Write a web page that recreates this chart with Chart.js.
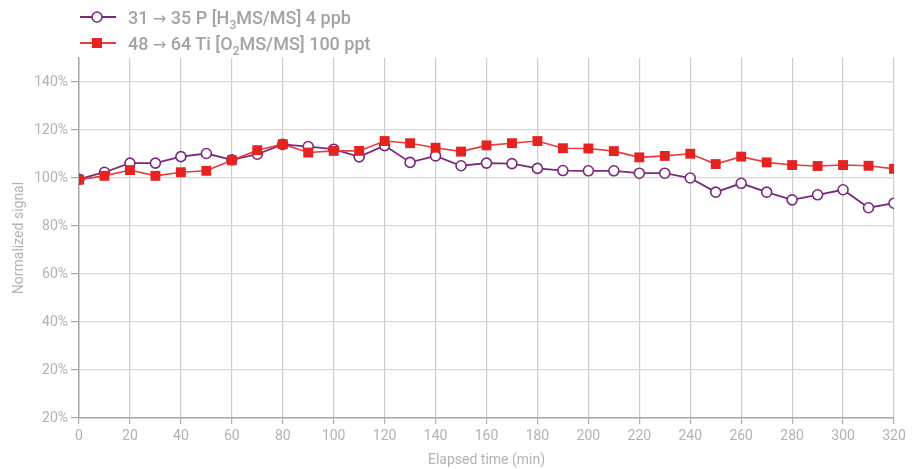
<!DOCTYPE html>
<html lang="en">
<head>
    <meta charset="UTF-8">
    <title>Normalized signal</title>
    <script src="https://cdn.jsdelivr.net/npm/chart.js"></script>
    <style>
        html, body {
            margin: 0;
            padding: 0;
            background: #ffffff;
            font-family: Roboto, "Noto Sans", Arial, sans-serif;
        }
        #wrap {
            position: relative;
            width: 924px;
            height: 469px;
        }
        #legend {
            position: absolute;
            left: 80px;
            top: 4px;
            color: #a3a3a3;
            font-size: 18px;
            font-weight: 500;
        }
        .item {
            display: flex;
            align-items: center;
            height: 26px;
        }
        .item svg { margin-right: 12px; }
        .arrow { font-family: "DejaVu Sans", sans-serif; font-weight: normal; font-size: 16px; }
        sub { font-size: 12px; vertical-align: -5px; line-height: 0; }
    </style>
</head>
<body>
<div id="wrap">
    <canvas id="signalChart" width="924" height="469"></canvas>
    <div id="legend"></div>
</div>

<script>
    const times = [0, 10, 20, 30, 40, 50, 60, 70, 80, 90, 100, 110, 120, 130, 140, 150, 160,
                   170, 180, 190, 200, 210, 220, 230, 240, 250, 260, 270, 280, 290, 300, 310, 320];
    const phosphorus = [99.5, 102.4, 106.2, 106.2, 108.9, 110.2, 107.6, 109.9, 114.0, 113.1, 112.0, 108.8, 113.5,
                        106.5, 109.2, 105.1, 106.2, 106.0, 104.0, 103.1, 103.0, 103.0, 102.0, 102.0, 100.0,
                        94.1, 97.8, 94.1, 90.9, 93.0, 95.1, 87.6, 89.5];
    const titanium = [99.3, 100.9, 103.3, 100.9, 102.4, 103.0, 107.4, 111.6, 114.1, 110.6, 111.3, 111.3, 115.4,
                      114.5, 112.6, 111.0, 113.6, 114.5, 115.4, 112.4, 112.3, 111.2, 108.6, 109.2, 110.1,
                      105.8, 108.9, 106.5, 105.4, 105.0, 105.4, 105.1, 103.8];
    const yTicks = [0, 20, 40, 60, 80, 100, 120, 140];
    const yTickLabels = ['20%', '20%', '40%', '60%', '80%', '100%', '120%', '140%'];

    const purple = '#7a2a7c';
    const red = '#e52421';

    const toPoints = vals => vals.map((v, i) => ({ x: times[i], y: v }));

    const ctx = document.getElementById('signalChart').getContext('2d');
    const chart = new Chart(ctx, {
        type: 'line',
        data: {
            datasets: [{
                label: '31 → 35 P [H₃MS/MS] 4 ppb',
                data: toPoints(phosphorus),
                borderColor: purple,
                borderWidth: 1.8,
                backgroundColor: '#ffffff',
                pointBackgroundColor: '#ffffff',
                pointBorderColor: purple,
                pointBorderWidth: 1.6,
                pointRadius: 5,
                pointStyle: 'circle',
                tension: 0,
                order: 1
            }, {
                label: '48 → 64 Ti [O₂MS/MS] 100 ppt',
                data: toPoints(titanium),
                borderColor: '#ea3d3a',
                borderWidth: 1.6,
                backgroundColor: red,
                pointBackgroundColor: red,
                pointBorderColor: red,
                pointBorderWidth: 0,
                pointRadius: 7,
                pointStyle: 'rect',
                tension: 0,
                order: 0
            }]
        },
        options: {
            responsive: false,
            animation: false,
            layout: { padding: { top: 58, right: 30, left: 0, bottom: 0 } },
            plugins: {
                legend: { display: false },
                tooltip: { enabled: false }
            },
            scales: {
                x: {
                    type: 'linear',
                    min: 0,
                    max: 320,
                    ticks: {
                        stepSize: 20,
                        color: '#b3b3b3',
                        font: { family: 'Roboto', size: 14 },
                        padding: 4
                    },
                    grid: { color: '#cdcdcd', tickColor: '#b0b0b0', tickLength: 6, lineWidth: 1.2 },
                    border: { color: '#a9a9a9', width: 1.5 },
                    title: {
                        display: true,
                        text: 'Elapsed time (min)',
                        color: '#b3b3b3',
                        font: { family: 'Roboto', size: 14 },
                        padding: { top: 2, bottom: 0 }
                    },
                    afterFit: scale => { scale.height = 51; }
                },
                y: {
                    min: 0,
                    max: 150,
                    afterBuildTicks: scale => {
                        scale.ticks = yTicks.map(v => ({ value: v }));
                    },
                    ticks: {
                        color: '#b3b3b3',
                        font: { family: 'Roboto', size: 14 },
                        padding: 3,
                        callback: v => yTickLabels[yTicks.indexOf(v)]
                    },
                    grid: { color: '#d9d9d9', tickColor: '#a9a9a9', tickLength: 8, lineWidth: 1.2 },
                    border: { color: '#a9a9a9', width: 1.5 },
                    title: {
                        display: true,
                        text: 'Normalized signal',
                        color: '#b3b3b3',
                        font: { family: 'Roboto', size: 14 },
                        padding: { top: 11, bottom: 2 }
                    },
                    afterFit: scale => { scale.width = 79; }
                }
            }
        }
    });

    // legend in two rows, like the original
    const legendItems = [
        { html: '31 <span class="arrow">→</span> 35 P [H<sub>3</sub>MS/MS] 4 ppb', color: purple, marker: 'circle' },
        { html: '48 <span class="arrow">→</span> 64 Ti [O<sub>2</sub>MS/MS] 100 ppt', color: '#ea3d3a', marker: 'rect' }
    ];
    const legend = document.getElementById('legend');
    legendItems.forEach(item => {
        const mark = item.marker === 'circle'
            ? `<circle cx="17" cy="8" r="5" fill="#fff" stroke="${item.color}" stroke-width="1.6"/>`
            : `<rect x="12" y="3" width="10" height="10" fill="${red}"/>`;
        legend.innerHTML += `<div class="item"><svg width="36" height="16">
            <line x1="0" y1="8" x2="36" y2="8" stroke="${item.color}" stroke-width="1.8"/>${mark}</svg>
            <span>${item.html}</span></div>`;
    });
</script>
</body>
</html>
